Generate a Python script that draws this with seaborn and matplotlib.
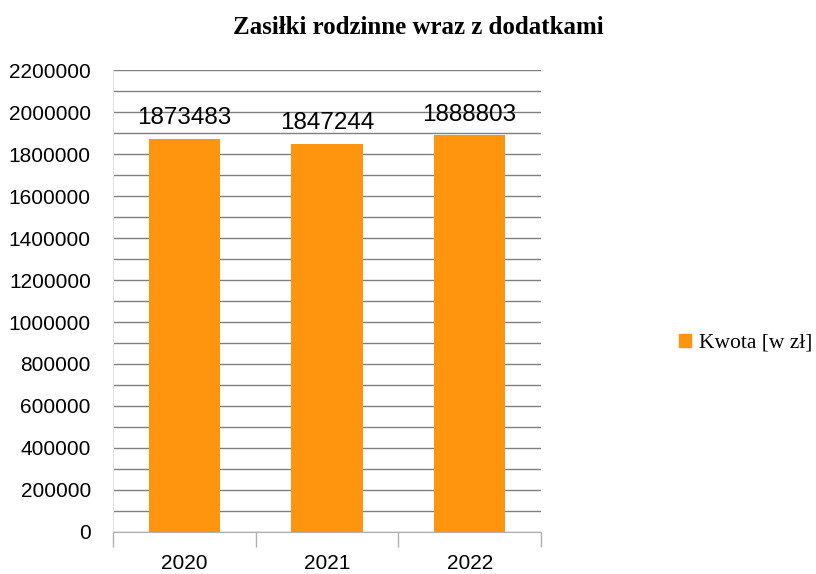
import pandas as pd
import matplotlib
matplotlib.use('Agg')
import matplotlib.pyplot as plt
from matplotlib.ticker import MultipleLocator, FixedLocator
import seaborn as sns

# Data
YEARS = ['2020', '2021', '2022']
AMOUNTS = [1873483, 1847244, 1888803]
SERIES_NAME = 'Kwota [w zł]'
TITLE = 'Zasiłki rodzinne wraz z dodatkami'
BAR_COLOR = '#FF950E'

df = pd.DataFrame({'Rok': YEARS, 'Kwota': AMOUNTS, 'Seria': SERIES_NAME})

sns.set_style('white', {'text.color': 'black', 'xtick.color': 'black', 'ytick.color': 'black'})
plt.rcParams['font.family'] = ['Liberation Sans', 'DejaVu Sans']

fig = plt.figure(figsize=(8.16, 5.74), dpi=100)
ax = fig.add_axes([0.1385, 0.0732, 0.5245, 0.8048])

sns.barplot(data=df, x='Rok', y='Kwota', hue='Seria', palette=[BAR_COLOR],
            width=0.5, saturation=1, linewidth=0, ax=ax, legend=False)

ax.set_xlim(-0.5, 2.5)
ax.set_ylim(0, 2200000)
ax.yaxis.set_major_locator(MultipleLocator(200000))
ax.yaxis.set_minor_locator(MultipleLocator(100000))
ax.grid(True, which='both', axis='y', color='#808080', linewidth=1)
ax.set_axisbelow(True)

# tick marks between categories
ax.xaxis.set_minor_locator(FixedLocator([-0.5, 0.5, 1.5, 2.5]))
ax.tick_params(axis='x', which='major', length=0, pad=16, labelsize=15, labelcolor='black')
ax.tick_params(axis='x', which='minor', length=11, color='#b0b0b0', width=1, bottom=True)
ax.tick_params(axis='y', which='both', length=0, pad=16, labelsize=15, labelcolor='black')
ax.set_yticklabels([str(int(v)) for v in ax.get_yticks()])

for side in ['top', 'right']:
    ax.spines[side].set_visible(False)
ax.spines['left'].set_color('#e0e0e0')
ax.spines['bottom'].set_color('#b0b0b0')
ax.set_xlabel('')
ax.set_ylabel('')

for container in ax.containers:
    ax.bar_label(container, fmt='%d', padding=7, fontsize=17.5, color='black')

fig.text(0.513, 0.952, TITLE, ha='center', va='center', fontsize=18,
         fontweight='bold', family='Liberation Serif', color='black')

handle = plt.Rectangle((0, 0), 1, 1, color=BAR_COLOR)
fig.legend([handle], [SERIES_NAME], loc='center left', bbox_to_anchor=(0.832, 0.402),
           frameon=False, handlelength=0.55, handleheight=0.55, handletextpad=0.4,
           borderaxespad=0, borderpad=0,
           prop={'family': 'Liberation Serif', 'size': 15.5})

fig.savefig('out.png', dpi=100)
